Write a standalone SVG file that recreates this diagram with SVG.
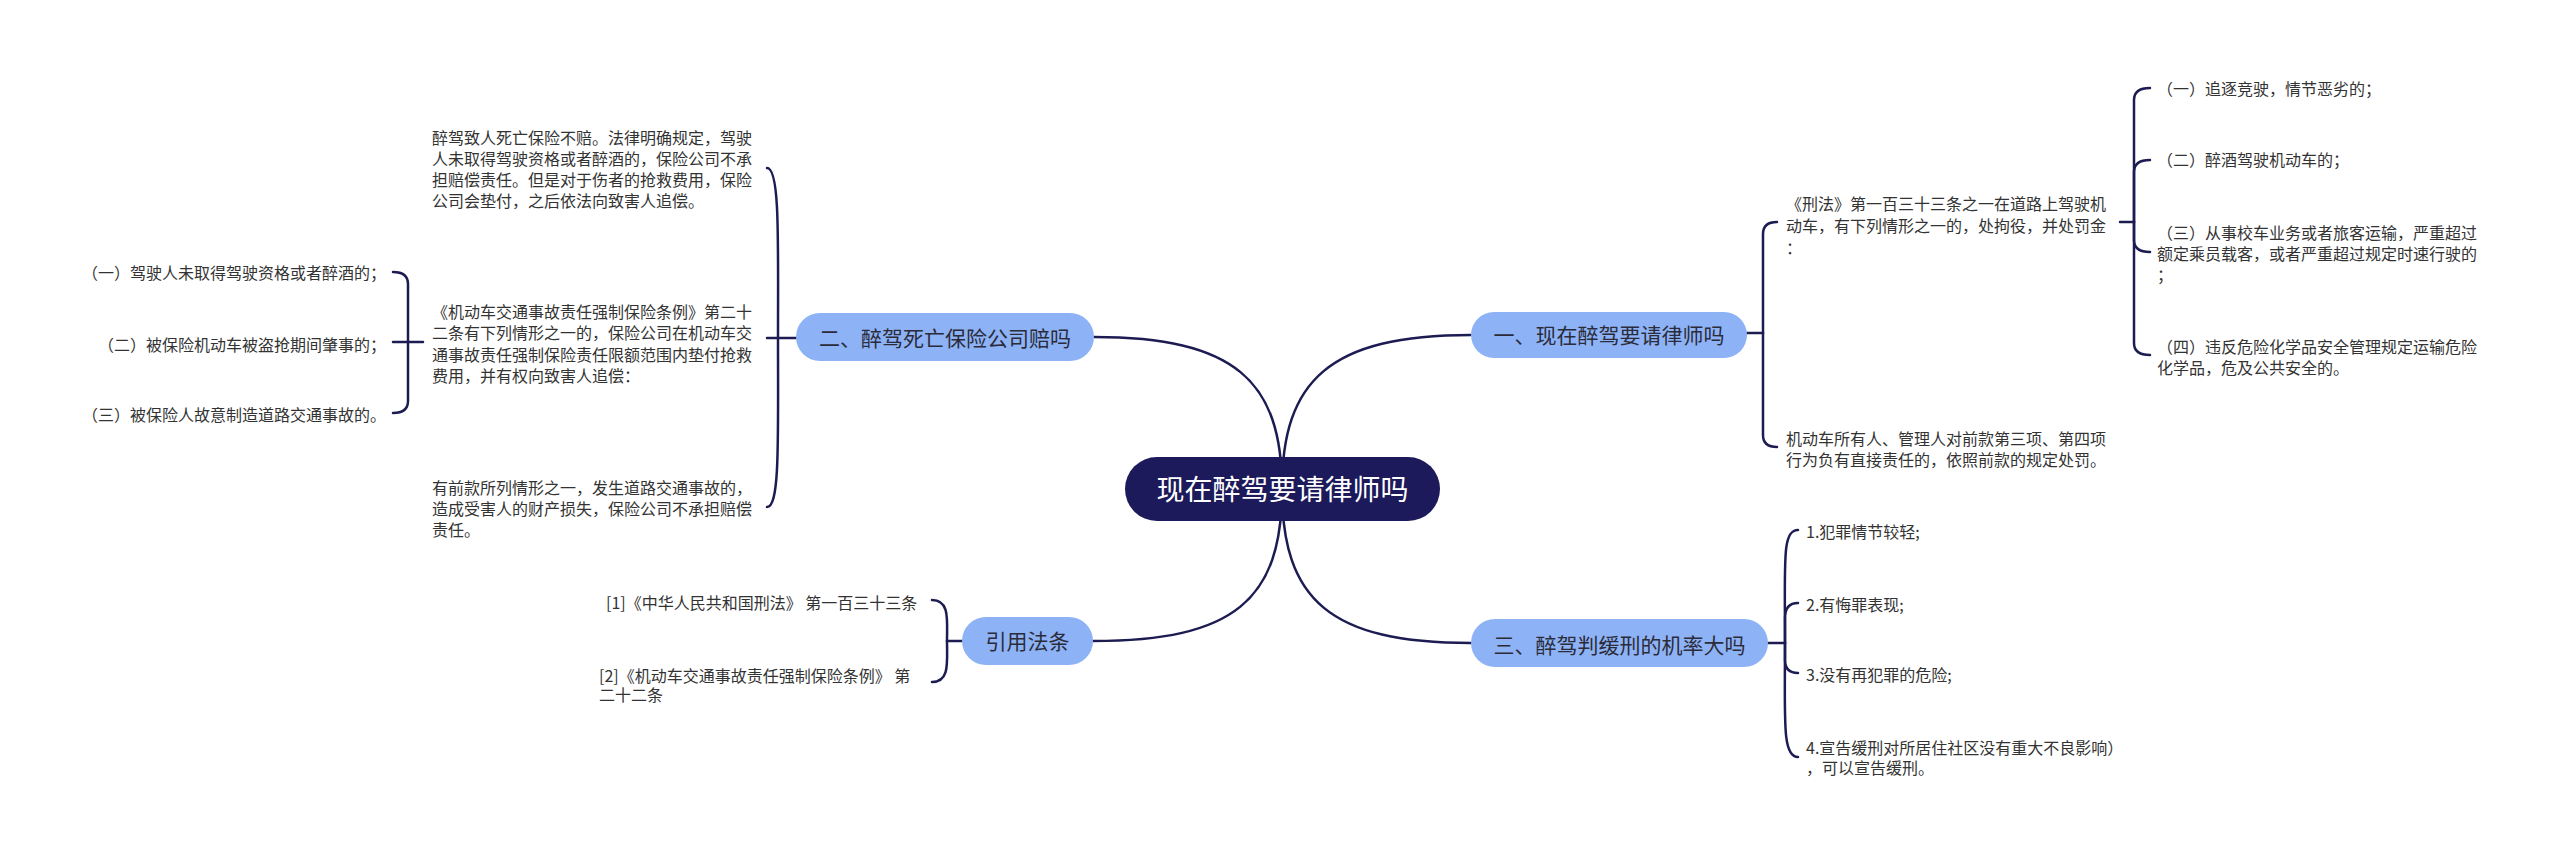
<svg xmlns="http://www.w3.org/2000/svg" width="2560" height="855" viewBox="0 0 2560 855">
<style>
.c{fill:none;stroke:#1d1c52;stroke-width:2.5;stroke-linecap:round;stroke-linejoin:round}
.t{font-family:"Noto Sans CJK SC","Noto Sans",sans-serif;font-size:16px;fill:#333333}
.b{fill:#8db3f6}
.bt{font-family:"Noto Sans CJK SC","Noto Sans",sans-serif;font-size:21px;fill:#2b2b3a;text-anchor:middle}
</style>
<rect width="2560" height="855" fill="#ffffff"/>
<g id="connectors">
  <path class="c" d="M1282 489 C1282 380 1330 335 1471 335"/>
  <path class="c" d="M1282 489 C1282 600 1330 643 1471 643"/>
  <path class="c" d="M1282 489 C1282 380 1234 337 1094 337"/>
  <path class="c" d="M1282 489 C1282 600 1234 641 1093 641"/>
  <!-- node1 bracket -->
  <path class="c" d="M1747 333 L1763 333"/>
  <path class="c" d="M1763 333 L1763 234 Q1763 222 1777 222"/>
  <path class="c" d="M1763 333 L1763 435 Q1763 447 1777 447"/>
  <!-- node1 sub bracket -->
  <path class="c" d="M2120 222 L2134 222"/>
  <path class="c" d="M2134 222 L2134 100 Q2134 88 2150 88"/>
  <path class="c" d="M2134 222 L2134 172 Q2134 160 2150 160"/>
  <path class="c" d="M2134 222 L2134 240 Q2134 252 2150 252"/>
  <path class="c" d="M2134 222 L2134 343 Q2134 355 2150 355"/>
  <!-- node3 bracket -->
  <path class="c" d="M1768 643 L1785 643"/>
  <path class="c" d="M1785 643 C1785 560 1782 530 1798 530"/>
  <path class="c" d="M1785 643 L1785 618 Q1785 603 1798 603"/>
  <path class="c" d="M1785 643 L1785 660 Q1785 673 1798 673"/>
  <path class="c" d="M1785 643 C1785 720 1782 757 1798 757"/>
  <!-- node2 bracket -->
  <path class="c" d="M767 338 L796 338"/>
  <path class="c" d="M778 338 C778 240 780 168 767 168"/>
  <path class="c" d="M778 338 C778 440 780 507 767 507"/>
  <!-- block2 left bracket -->
  <path class="c" d="M393 342 L423 342"/>
  <path class="c" d="M408 342 L408 284 Q408 272 393 272"/>
  <path class="c" d="M408 342 L408 401 Q408 413 393 413"/>
  <!-- node4 bracket -->
  <path class="c" d="M947 641 L962 641"/>
  <path class="c" d="M947 641 C947 620 950 600 932 600"/>
  <path class="c" d="M947 641 C947 662 950 682 932 682"/>
</g>
<g id="center">
  <rect x="1125" y="457" width="315" height="64" rx="32" fill="#1c1a5a"/>
  <text x="1282.5" y="499.5" font-family="Noto Sans CJK SC, Noto Sans, sans-serif" font-size="28" fill="#ffffff" text-anchor="middle">现在醉驾要请律师吗</text>
</g>
<g id="node1">
  <rect class="b" x="1471" y="312" width="276" height="46" rx="23"/>
  <text class="bt" x="1609" y="343">一、现在醉驾要请律师吗</text>
</g>
<g id="node1-text1">
  <text class="t" x="1786" y="210">《刑法》第一百三十三条之一在道路上驾驶机</text>
  <text class="t" x="1786" y="232">动车，有下列情形之一的，处拘役，并处罚金</text>
  <text class="t" x="1786" y="254">：</text>
</g>
<g id="node1-text2">
  <text class="t" x="1786" y="445">机动车所有人、管理人对前款第三项、第四项</text>
  <text class="t" x="1786" y="466">行为负有直接责任的，依照前款的规定处罚。</text>
</g>
<g id="node1-item1"><text class="t" x="2157" y="95">（一）追逐竞驶，情节恶劣的；</text></g>
<g id="node1-item2"><text class="t" x="2157" y="166">（二）醉酒驾驶机动车的；</text></g>
<g id="node1-item3">
  <text class="t" x="2157" y="239">（三）从事校车业务或者旅客运输，严重超过</text>
  <text class="t" x="2157" y="260">额定乘员载客，或者严重超过规定时速行驶的</text>
  <text class="t" x="2157" y="281">；</text>
</g>
<g id="node1-item4">
  <text class="t" x="2157" y="353">（四）违反危险化学品安全管理规定运输危险</text>
  <text class="t" x="2157" y="374">化学品，危及公共安全的。</text>
</g>
<g id="node3">
  <rect class="b" x="1471" y="619" width="297" height="48" rx="24"/>
  <text class="bt" x="1619.5" y="653">三、醉驾判缓刑的机率大吗</text>
</g>
<g id="node3-item1"><text class="t" x="1806" y="538">1.犯罪情节较轻;</text></g>
<g id="node3-item2"><text class="t" x="1806" y="611">2.有悔罪表现;</text></g>
<g id="node3-item3"><text class="t" x="1806" y="681">3.没有再犯罪的危险;</text></g>
<g id="node3-item4">
  <text class="t" x="1806" y="754">4.宣告缓刑对所居住社区没有重大不良影响）</text>
  <text class="t" x="1806" y="774">，可以宣告缓刑。</text>
</g>
<g id="node2">
  <rect class="b" x="796" y="313" width="298" height="48" rx="24"/>
  <text class="bt" x="945" y="346">二、醉驾死亡保险公司赔吗</text>
</g>
<g id="node2-text1">
  <text class="t" x="432" y="144">醉驾致人死亡保险不赔。法律明确规定，驾驶</text>
  <text class="t" x="432" y="165">人未取得驾驶资格或者醉酒的，保险公司不承</text>
  <text class="t" x="432" y="186">担赔偿责任。但是对于伤者的抢救费用，保险</text>
  <text class="t" x="432" y="207">公司会垫付，之后依法向致害人追偿。</text>
</g>
<g id="node2-text2">
  <text class="t" x="432" y="318">《机动车交通事故责任强制保险条例》第二十</text>
  <text class="t" x="432" y="339">二条有下列情形之一的，保险公司在机动车交</text>
  <text class="t" x="432" y="361">通事故责任强制保险责任限额范围内垫付抢救</text>
  <text class="t" x="432" y="382">费用，并有权向致害人追偿：</text>
</g>
<g id="node2-text3">
  <text class="t" x="432" y="494">有前款所列情形之一，发生道路交通事故的，</text>
  <text class="t" x="432" y="515">造成受害人的财产损失，保险公司不承担赔偿</text>
  <text class="t" x="432" y="536">责任。</text>
</g>
<g id="node2-sub1"><text class="t" x="386" y="279" text-anchor="end">（一）驾驶人未取得驾驶资格或者醉酒的；</text></g>
<g id="node2-sub2"><text class="t" x="386" y="351" text-anchor="end">（二）被保险机动车被盗抢期间肇事的；</text></g>
<g id="node2-sub3"><text class="t" x="386" y="421" text-anchor="end">（三）被保险人故意制造道路交通事故的。</text></g>
<g id="node4">
  <rect class="b" x="962" y="617" width="131" height="48" rx="24"/>
  <text class="bt" x="1027.5" y="649">引用法条</text>
</g>
<g id="node4-ref1"><text class="t" x="606" y="609">[1]《中华人民共和国刑法》 第一百三十三条</text></g>
<g id="node4-ref2">
  <text class="t" x="599" y="682">[2]《机动车交通事故责任强制保险条例》 第</text>
  <text class="t" x="599" y="701">二十二条</text>
</g>
</svg>
